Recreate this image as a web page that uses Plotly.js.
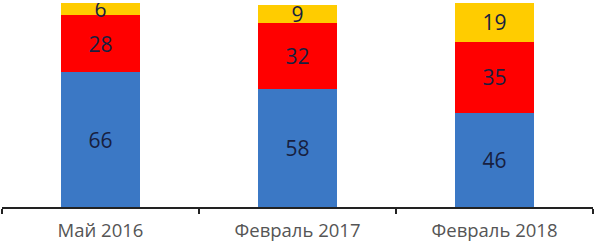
<!DOCTYPE html>
<html><head><meta charset="utf-8">
<script src="https://cdn.plot.ly/plotly-3.0.1.min.js"></script>
<style>html,body{margin:0;padding:0;background:#fff}#chart{width:595px;height:245px}</style>
</head><body><div id="chart"></div>
<script>
const categories = ["Май 2016", "Февраль 2017", "Февраль 2018"];
const blueValues = [66, 58, 46];
const redValues = [28, 32, 35];
const yellowValues = [6, 9, 19];

const labelFont = {family: "Open Sans", size: 21, color: "#172040"};
function mk(vals, color) {
  return {type: "bar", x: categories, y: vals, text: vals.map(String),
    textposition: "inside", insidetextanchor: "middle", textangle: 0,
    insidetextfont: labelFont, constraintext: "none",
    marker: {color: color, line: {width: 0}}, hoverinfo: "none", width: 0.4};
}
const data = [mk(blueValues, "#3b78c5"), mk(redValues, "#ff0000"), mk(yellowValues, "#ffcc00")];
const layout = {
  width: 595, height: 245, barmode: "stack", showlegend: false,
  margin: {l: 2, r: 2, t: 3, b: 38},
  paper_bgcolor: "#fff", plot_bgcolor: "#fff",
  xaxis: {showline: true, linecolor: "#222", linewidth: 1.5, ticks: "outside", tickson: "boundaries",
    ticklen: 5, tickcolor: "#222", tickwidth: 1.5, range: [-0.5, 2.5], ticklabelstandoff: 6,
    tickfont: {family: "Open Sans", size: 18.5, color: "#555"}},
  yaxis: {range: [0, 100], visible: false, showgrid: false, zeroline: false}
};
Plotly.newPlot("chart", data, layout, {staticPlot: true});
</script></body></html>
